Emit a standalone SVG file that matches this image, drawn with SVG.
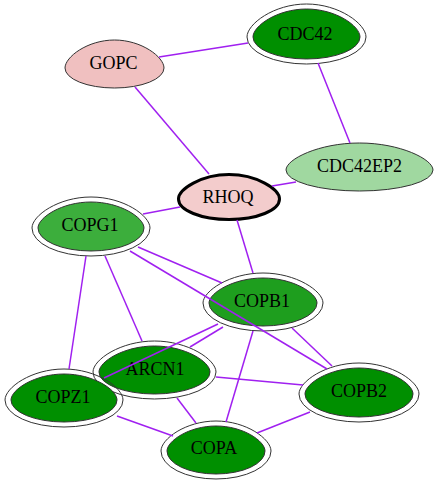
<svg xmlns="http://www.w3.org/2000/svg" width="439" height="485" viewBox="0 0 439 485">
<style>
.n path{stroke:#333;stroke-width:1}
.ring{fill:none}
.g0{fill:#008f00}
text{font-family:"Liberation Serif","Times New Roman",serif;font-size:18px;fill:#000;text-anchor:middle}
.e line{stroke:#a020f0;stroke-width:1.5}
</style>
<rect width="439" height="485" fill="#fff"/>
<g id="GOPC" class="n" transform="translate(114.5,68)">
<path fill="#f0c0c0" d="M-49.5,0 C-49.5,-11 -27,-28 0,-28 C27,-28 49.5,-11 49.5,0 A49.5,20 0 0 1 -49.5,0Z"/>
<text x="-1" y="1">GOPC</text>
</g>
<g id="CDC42" class="n" transform="translate(306.5,37)">
<path class="ring" d="M-59.5,0 C-59.5,-13 -32.7,-33 0,-33 C32.7,-33 59.5,-13 59.5,0 A59.5,27 0 0 1 -59.5,0Z"/>
<path class="g0" d="M-53.5,0 C-53.5,-11 -29.4,-28 0,-28 C29.4,-28 53.5,-11 53.5,0 A53.5,22 0 0 1 -53.5,0Z"/>
<text x="-1.5" y="3">CDC42</text>
</g>
<g id="CDC42EP2" class="n" transform="translate(359.5,170)">
<path fill="#a0d8a0" d="M-73.5,0 C-73.5,-10.8 -40.4,-27 0,-27 C40.4,-27 73.5,-10.8 73.5,0 A73.5,21 0 0 1 -73.5,0Z"/>
<text x="0" y="2">CDC42EP2</text>
</g>
<g id="RHOQ" class="n" transform="translate(229,199)">
<path fill="#f3cccc" style="stroke:#000;stroke-width:3" d="M-50.5,0 C-50.5,-9.8 -27.8,-24.5 0,-24.5 C27.8,-24.5 50.5,-9.8 50.5,0 A50.5,20.5 0 0 1 -50.5,0Z"/>
<text x="-1" y="4">RHOQ</text>
</g>
<g id="COPG1" class="n" transform="translate(91,228)">
<path class="ring" d="M-59,0 C-59,-12.4 -32.5,-31 0,-31 C32.5,-31 59,-12.4 59,0 A59,28 0 0 1 -59,0Z"/>
<path fill="#3cae3c" d="M-53,0 C-53,-10.4 -29.2,-26 0,-26 C29.2,-26 53,-10.4 53,0 A53,23 0 0 1 -53,0Z"/>
<text x="-1" y="3">COPG1</text>
</g>
<g id="COPB1" class="n" transform="translate(263,303)">
<path class="ring" d="M-60,0 C-60,-12 -33,-30 0,-30 C33,-30 60,-12 60,0 A60,28 0 0 1 -60,0Z"/>
<path fill="#1e9e1e" d="M-54,0 C-54,-10 -29.7,-25 0,-25 C29.7,-25 54,-10 54,0 A54,23 0 0 1 -54,0Z"/>
<text x="-1" y="4">COPB1</text>
</g>
<g id="ARCN1" class="n" transform="translate(154.5,372)">
<path class="ring" d="M-61.5,0 C-61.5,-12.4 -33.8,-31 0,-31 C33.8,-31 61.5,-12.4 61.5,0 A61.5,27 0 0 1 -61.5,0Z"/>
<path class="g0" d="M-55.5,0 C-55.5,-10.4 -30.5,-26 0,-26 C30.5,-26 55.5,-10.4 55.5,0 A55.5,22 0 0 1 -55.5,0Z"/>
<text x="0.5" y="3">ARCN1</text>
</g>
<g id="COPZ1" class="n" transform="translate(64,400)">
<path class="ring" d="M-59,0 C-59,-12.4 -32.5,-31 0,-31 C32.5,-31 59,-12.4 59,0 A59,27 0 0 1 -59,0Z"/>
<path class="g0" d="M-53,0 C-53,-10.4 -29.2,-26 0,-26 C29.2,-26 53,-10.4 53,0 A53,22 0 0 1 -53,0Z"/>
<text x="-1" y="3">COPZ1</text>
</g>
<g id="COPA" class="n" transform="translate(216,451)">
<path class="ring" d="M-55,0 C-55,-12 -30.3,-30 0,-30 C30.3,-30 55,-12 55,0 A55,28 0 0 1 -55,0Z"/>
<path class="g0" d="M-49,0 C-49,-10 -27,-25 0,-25 C27,-25 49,-10 49,0 A49,23 0 0 1 -49,0Z"/>
<text x="-2" y="3">COPA</text>
</g>
<g id="COPB2" class="n" transform="translate(359,394)">
<path class="ring" d="M-60,0 C-60,-12.4 -33,-31 0,-31 C33,-31 60,-12.4 60,0 A60,28 0 0 1 -60,0Z"/>
<path class="g0" d="M-54,0 C-54,-10.4 -29.7,-26 0,-26 C29.7,-26 54,-10.4 54,0 A54,23 0 0 1 -54,0Z"/>
<text x="0" y="3">COPB2</text>
</g>
<g id="edges" class="e">
<line x1="159" y1="57" x2="248" y2="43"/>
<line x1="135" y1="87" x2="209" y2="174"/>
<line x1="318" y1="63" x2="350" y2="143"/>
<line x1="272" y1="186" x2="296" y2="182"/>
<line x1="143" y1="214" x2="180" y2="207"/>
<line x1="237" y1="220" x2="253" y2="273"/>
<line x1="138" y1="247" x2="222" y2="283"/>
<line x1="130" y1="251" x2="327" y2="369"/>
<line x1="86" y1="256" x2="69" y2="369"/>
<line x1="105" y1="256" x2="142" y2="341"/>
<line x1="104" y1="378" x2="218" y2="324"/>
<line x1="190" y1="347" x2="223" y2="327"/>
<line x1="253" y1="331" x2="226" y2="422"/>
<line x1="292" y1="328" x2="332" y2="366"/>
<line x1="216" y1="377" x2="303" y2="385"/>
<line x1="310" y1="412" x2="257" y2="433"/>
<line x1="117" y1="416" x2="173" y2="436"/>
<line x1="177" y1="398" x2="196" y2="423"/>
</g>
</svg>
